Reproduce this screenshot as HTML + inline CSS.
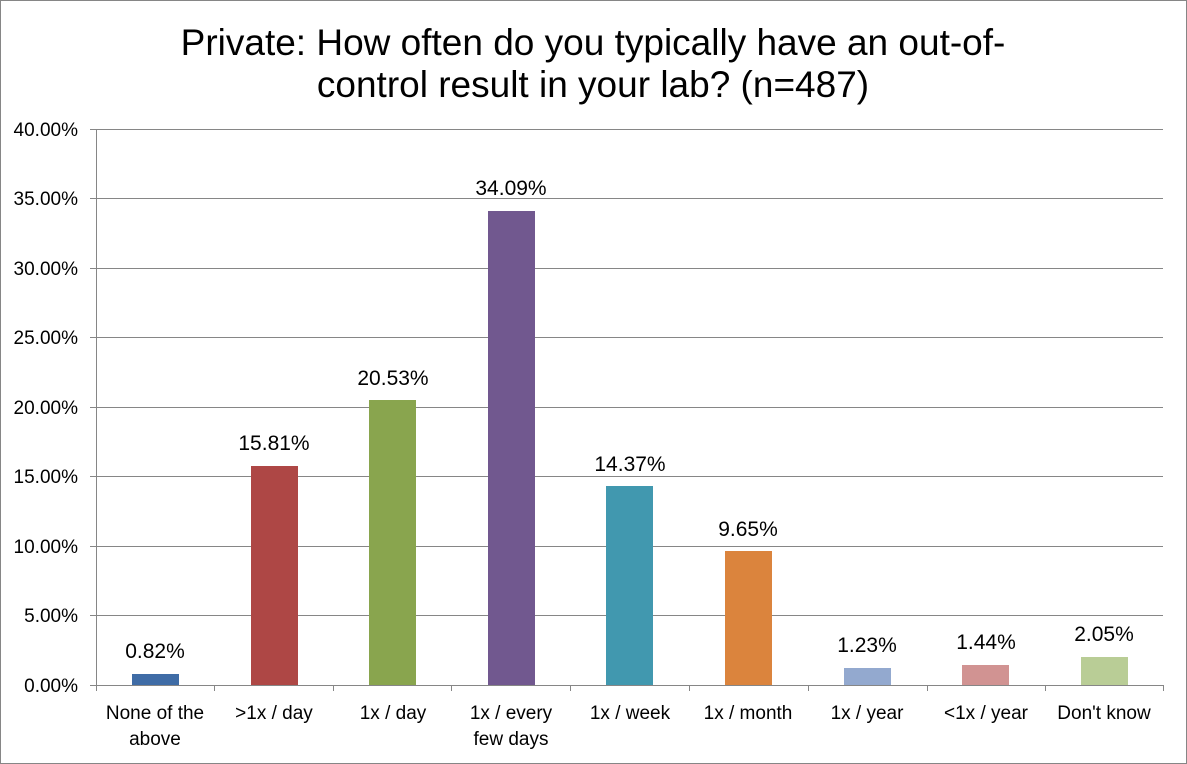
<!DOCTYPE html>
<html><head><meta charset="utf-8"><style>
body{margin:0;background:#fff;}
svg{display:block;font-family:"Liberation Sans",Arial,sans-serif;}
</style></head><body>
<svg width="1187" height="764" viewBox="0 0 1187 764">
<rect x="0.5" y="0.5" width="1186" height="763" fill="#fff" stroke="#868686"/>
<text x="593" y="55" font-size="37" text-anchor="middle" fill="#000">Private: How often do you typically have an out-of-</text>
<text x="593" y="97" font-size="37" text-anchor="middle" fill="#000">control result in your lab? (n=487)</text>
<g stroke="#868686" stroke-width="1">
<line x1="96" y1="129.5" x2="1163" y2="129.5"/>
<line x1="96" y1="198.5" x2="1163" y2="198.5"/>
<line x1="96" y1="268.5" x2="1163" y2="268.5"/>
<line x1="96" y1="337.5" x2="1163" y2="337.5"/>
<line x1="96" y1="407.5" x2="1163" y2="407.5"/>
<line x1="96" y1="476.5" x2="1163" y2="476.5"/>
<line x1="96" y1="546.5" x2="1163" y2="546.5"/>
<line x1="96" y1="615.5" x2="1163" y2="615.5"/>
<line x1="96.5" y1="129" x2="96.5" y2="685"/>
<line x1="90" y1="129.5" x2="96" y2="129.5"/><line x1="90" y1="198.5" x2="96" y2="198.5"/>
<line x1="90" y1="268.5" x2="96" y2="268.5"/><line x1="90" y1="337.5" x2="96" y2="337.5"/>
<line x1="90" y1="407.5" x2="96" y2="407.5"/><line x1="90" y1="476.5" x2="96" y2="476.5"/>
<line x1="90" y1="546.5" x2="96" y2="546.5"/><line x1="90" y1="615.5" x2="96" y2="615.5"/>
<line x1="90" y1="685.5" x2="96" y2="685.5"/>
</g>
<g font-size="19" text-anchor="end" fill="#000">
<text x="78" y="136">40.00%</text><text x="78" y="205">35.00%</text><text x="78" y="275">30.00%</text>
<text x="78" y="344">25.00%</text><text x="78" y="414">20.00%</text><text x="78" y="483">15.00%</text>
<text x="78" y="553">10.00%</text><text x="78" y="622">5.00%</text><text x="78" y="692">0.00%</text>
</g>
<g>
<rect x="132" y="674" width="47" height="11" fill="#3F6CA6"/>
<rect x="251" y="466" width="47" height="219" fill="#AE4745"/>
<rect x="369" y="400" width="47" height="285" fill="#89A54E"/>
<rect x="488" y="211" width="47" height="474" fill="#71588F"/>
<rect x="606" y="486" width="47" height="199" fill="#4198AF"/>
<rect x="725" y="551" width="47" height="134" fill="#DB843D"/>
<rect x="844" y="668" width="47" height="17" fill="#93A9CF"/>
<rect x="962" y="665" width="47" height="20" fill="#D19392"/>
<rect x="1081" y="657" width="47" height="28" fill="#B9CD96"/>
</g>
<g stroke="#868686">
<line x1="96" y1="685.5" x2="1163" y2="685.5"/>
<line x1="96.5" y1="685" x2="96.5" y2="691"/><line x1="214.5" y1="685" x2="214.5" y2="691"/>
<line x1="333.5" y1="685" x2="333.5" y2="691"/><line x1="451.5" y1="685" x2="451.5" y2="691"/>
<line x1="570.5" y1="685" x2="570.5" y2="691"/><line x1="689.5" y1="685" x2="689.5" y2="691"/>
<line x1="808.5" y1="685" x2="808.5" y2="691"/><line x1="927.5" y1="685" x2="927.5" y2="691"/>
<line x1="1045.5" y1="685" x2="1045.5" y2="691"/><line x1="1163.5" y1="685" x2="1163.5" y2="691"/>
</g>
<g font-size="21" text-anchor="middle" fill="#000">
<text x="155" y="658">0.82%</text><text x="274" y="450">15.81%</text><text x="393" y="385">20.53%</text>
<text x="511" y="195">34.09%</text><text x="630" y="471">14.37%</text><text x="748" y="536">9.65%</text>
<text x="867" y="652">1.23%</text><text x="986" y="649">1.44%</text><text x="1104" y="641">2.05%</text>
</g>
<g font-size="19" text-anchor="middle" fill="#000">
<text x="155" y="719">None of the</text><text x="155" y="745">above</text>
<text x="274" y="719">&gt;1x / day</text>
<text x="393" y="719">1x / day</text>
<text x="511" y="719">1x / every</text><text x="511" y="745">few days</text>
<text x="630" y="719">1x / week</text>
<text x="748" y="719">1x / month</text>
<text x="867" y="719">1x / year</text>
<text x="986" y="719">&lt;1x / year</text>
<text x="1104" y="719">Don't know</text>
</g>
</svg>
</body></html>
